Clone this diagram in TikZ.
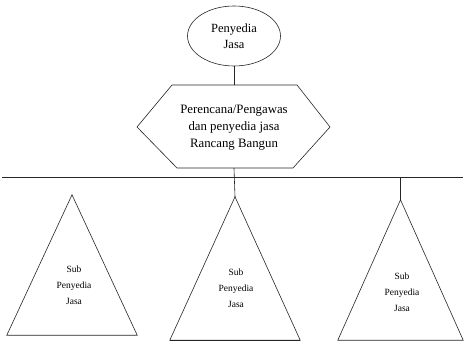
\documentclass[tikz,border=0pt]{standalone}
\usepackage{fontspec}
\setmainfont{Liberation Serif}
\usetikzlibrary{shapes.geometric}
\begin{document}
\begin{tikzpicture}[x=1pt,y=-1pt,
  line/.style={draw=black!85,line width=0.6pt},
  ellbox/.style={ellipse,line,minimum width=93pt,minimum height=60pt,inner sep=0pt,align=center,font=\fontsize{12.5}{16}\selectfont},
  hexbox/.style={rectangle,minimum width=193pt,minimum height=83pt,inner sep=0pt},
  hextext/.style={align=center,font=\fontsize{12.8}{17}\selectfont,inner sep=0pt},
  tribox/.style={rectangle,inner sep=0pt},
  subtext/.style={align=center,font=\fontsize{9.5}{16}\selectfont,inner sep=0pt}]
\useasboundingbox (0,0) rectangle (465,344);
\fill[white] (0,0) rectangle (465,344);

% top ellipse
\node[ellbox] (ell) at (234,36) {Penyedia\\Jasa};

% hexagon
\node[hexbox] (hex) at (234,126.5) {};
\draw[line] (172,85) -- (297,85) -- (330,127) -- (293,168) -- (177,168) -- (137,127) -- cycle;
\node[hextext] (hext) at (234,128) {Perencana/Pengawas\\dan penyedia jasa\\Rancang Bangun};

% triangles
\node[tribox,minimum width=130pt,minimum height=140pt] (t1) at (72,265) {};
\node[tribox,minimum width=130pt,minimum height=143pt] (t2) at (235,268.5) {};
\node[tribox,minimum width=125pt,minimum height=140pt] (t3) at (400.5,270) {};
\draw[line] (t1.north) -- (t1.south east) -- (t1.south west) -- cycle;
\draw[line] (t2.north) -- (t2.south east) -- (t2.south west) -- cycle;
\draw[draw=black!85,line width=1.3pt] (t2.south west) -- (t2.south east);
\draw[line] (t3.north) -- (t3.south east) -- (t3.south west) -- cycle;

\node[subtext] (s1) at (74,285) {Sub\\Penyedia\\Jasa};
\node[subtext] (s2) at (236,288) {Sub\\Penyedia\\Jasa};
\node[subtext] (s3) at (402,292) {Sub\\Penyedia\\Jasa};

% bus line
\coordinate (busL) at (2,177);
\coordinate (busR) at (463,177);
\coordinate (j3) at (400.5,177);
\draw[line] (busL) -- (busR);

% connectors
\draw[line] (ell.south) -- (hex.north);
\draw[line] (hex.south) -- (t2.north);
\draw[line] (j3) -- (t3.north);
\end{tikzpicture}
\end{document}
